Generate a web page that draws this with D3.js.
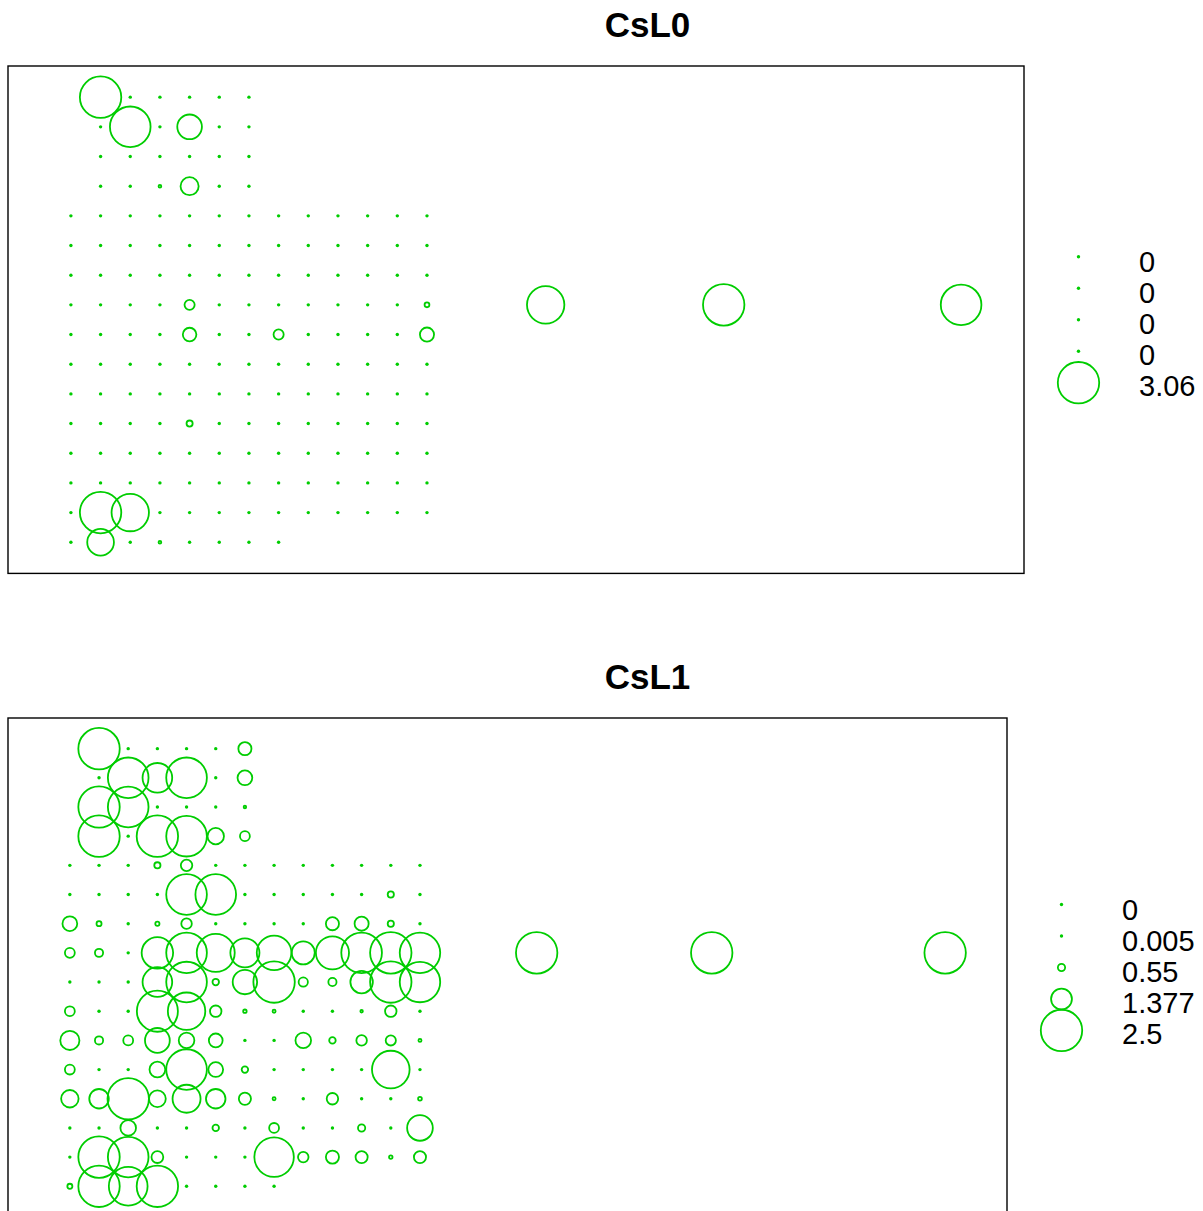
<!DOCTYPE html>
<html><head><meta charset="utf-8">
<script src="https://cdn.jsdelivr.net/npm/d3@7"></script>
<style>body{margin:0;background:#fff}</style>
</head><body><svg id="c" width="1203" height="1211"></svg>
<script>
// ---- data ----
const panelTitles = ["CsL0", "CsL1"];
const rowFirstCol = [1,1,1,1,0,0,0,0,0,0,0,0,0,0,0,0];
const farCols = [16, 22, 30];
const farRow = 7;

const csl0Rows = [
  [3.06, 0, 0, 0, 0, 0],
  [0, 3.01, 0, 1.95, 0, 0],
  [0, 0, 0, 0, 0, 0],
  [0, 0, 0.29, 1.49, 0, 0],
  [0,0,0,0,0,0,0,0,0,0,0,0,0],
  [0,0,0,0,0,0,0,0,0,0,0,0,0],
  [0,0,0,0,0,0,0,0,0,0,0,0,0],
  [0,0,0,0,0.90,0,0,0,0,0,0,0,0.47],
  [0,0,0,0,1.16,0,0,0.90,0,0,0,0,1.20],
  [0,0,0,0,0,0,0,0,0,0,0,0,0],
  [0,0,0,0,0,0,0,0,0,0,0,0,0],
  [0,0,0,0,0.58,0,0,0,0,0,0,0,0],
  [0,0,0,0,0,0,0,0,0,0,0,0,0],
  [0,0,0,0,0,0,0,0,0,0,0,0,0],
  [0,3.06,2.80,0,0,0,0,0,0,0,0,0,0],
  [0, 2.09, 0, 0.29, 0, 0, 0, 0]
];
const csl0Far = [2.80, 3.06, 3.01];

const csl1Rows = [
  [2.5, 0, 0, 0, 0, 0.92],
  [0, 2.46, 1.87, 2.46, 0, 1.02],
  [2.5, 2.46, 0, 0, 0, 0.22],
  [2.5, 0, 2.5, 2.46, 1.12, 0.72],
  [0,0,0,0.48,0.82,0,0,0,0,0,0,0,0],
  [0,0,0,0,2.46,2.46,0,0.19,0,0,0,0.48,0],
  [1.02,0.40,0,0.34,0.76,0,0,0,0,0.92,0.98,0.48,0],
  [0.72,0.61,0,1.97,2.46,2.32,1.84,2.14,1.50,2.06,2.46,2.5,2.45],
  [0,0,0,1.87,2.46,0.50,1.58,2.5,0.68,0.61,1.47,2.5,2.45],
  [0.72,0,0,2.48,2.29,0.82,0.29,0.26,0,0,0.22,0.82,0],
  [1.28,0.61,0.72,1.60,1.07,0.96,0,0,1.07,0.50,0.76,0.74,0.26],
  [0.72,0,0,1.08,2.46,1.02,0.50,0,0,0,0,2.30,0],
  [1.18,1.30,2.5,1.14,1.78,1.30,0.86,0.26,0,0.82,0,0,0.31],
  [0,0,1.07,0,0,0.50,0,0.72,0,0,0.55,0,1.65],
  [0,2.5,2.46,0.84,0,0,0,2.40,0.76,0.92,0.86,0.29,0.86],
  [0.40, 2.5, 2.36, 2.5, 0, 0, 0, 0]
];
const csl1Far = [2.5, 2.5, 2.5];

const csl0LegendValues = [0, 0, 0, 0, 3.06];
const csl0LegendLabels = ["0", "0", "0", "0", "3.06"];
const csl1LegendValues = [0, 0.005, 0.55, 1.377, 2.5];
const csl1LegendLabels = ["0", "0.005", "0.55", "1.377", "2.5"];

// ---- drawing ----
const GREEN = "#00CD00";
const FONT = "'Liberation Sans', Arial, Helvetica, sans-serif";
const svg = d3.select("#c");

function toPoints(rows, far) {
  const pts = [];
  rows.forEach((row, r) => row.forEach((v, i) => pts.push({x: rowFirstCol[r] + i, y: r, v})));
  far.forEach((v, i) => pts.push({x: farCols[i], y: farRow, v}));
  return pts;
}

function drawPanel(cfg) {
  const g = svg.append("g");
  const k = (cfg.right - cfg.left) / 34.24;
  const x = d3.scaleLinear().domain([-2.12, 32.12]).range([cfg.left, cfg.right]);
  const y = d3.scaleLinear().domain([-1.05, 16.05]).range([cfg.top, cfg.top + 17.1 * k]);
  const vmax = d3.max(cfg.legendValues);
  const rs = d3.scalePow().exponent(1.15).domain([0, vmax]).range([0, 20.7]);
  const isDot = v => rs(v) < 1.2;
  const styleMark = sel => sel
    .attr("r", d => isDot(d) ? 1.7 : rs(d))
    .attr("fill", d => isDot(d) ? GREEN : "none")
    .attr("stroke", d => isDot(d) ? "none" : GREEN)
    .attr("stroke-width", 1.8);

  g.append("text").attr("x", 647.5).attr("y", cfg.top - 29.3)
    .attr("text-anchor", "middle").attr("font-family", FONT)
    .attr("font-weight", "bold").attr("font-size", 35).attr("fill", "#000")
    .text(cfg.title);

  g.append("rect").attr("x", x(-2.12)).attr("y", y(-1.05))
    .attr("width", x(32.12) - x(-2.12)).attr("height", y(16.05) - y(-1.05))
    .attr("fill", "none").attr("stroke", "#000").attr("stroke-width", 1.4);

  g.selectAll("circle.pt").data(toPoints(cfg.rows, cfg.far)).join("circle")
    .attr("class", "pt")
    .attr("cx", d => x(d.x)).attr("cy", d => y(d.y))
    .datum(d => d.v).call(styleMark);

  // legend
  const cy = (y(-1.05) + y(16.05)) / 2;
  const lg = g.append("g");
  lg.selectAll("circle").data(cfg.legendValues).join("circle")
    .attr("cx", cfg.right + 54.5).attr("cy", (d, i) => cy + (i - 2) * 31.5)
    .call(styleMark);
  lg.selectAll("text").data(cfg.legendLabels).join("text")
    .attr("x", cfg.right + 115).attr("y", (d, i) => cy + 14.5 + (i - 2) * 30.9)
    .attr("font-family", FONT).attr("font-size", 29).attr("fill", "#000")
    .text(d => d);
}

drawPanel({title: panelTitles[0], rows: csl0Rows, far: csl0Far,
  legendValues: csl0LegendValues, legendLabels: csl0LegendLabels,
  left: 8, right: 1024, top: 66});
drawPanel({title: panelTitles[1], rows: csl1Rows, far: csl1Far,
  legendValues: csl1LegendValues, legendLabels: csl1LegendLabels,
  left: 8, right: 1007, top: 718});
</script></body></html>
